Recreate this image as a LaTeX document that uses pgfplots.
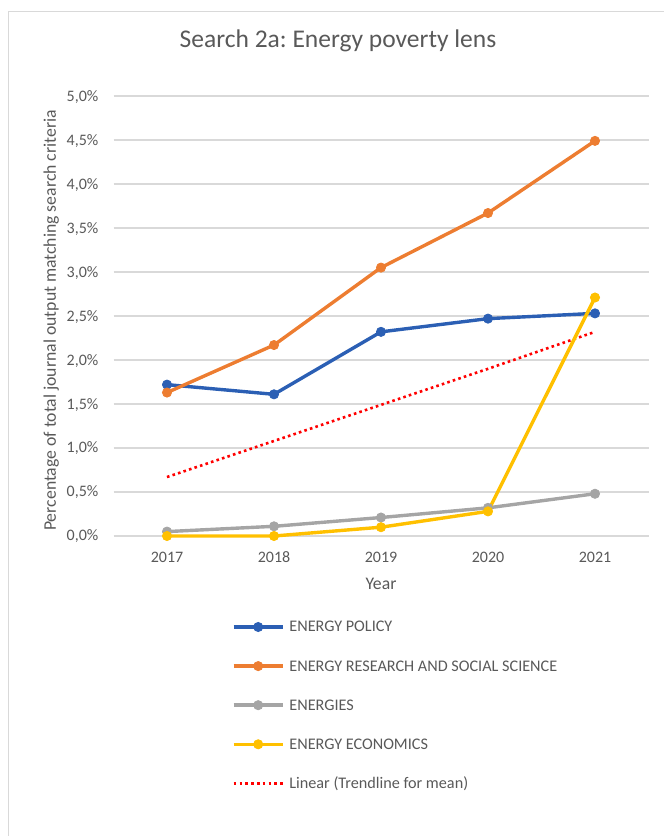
\documentclass[border=0pt]{standalone}
\usepackage{fontspec}
\setmainfont{Carlito}
\usepackage{pgfplots}
\usepackage{pgfplotstable}
\pgfplotsset{compat=1.18}
\frenchspacing

\definecolor{txt}{HTML}{595959}
\definecolor{gridc}{HTML}{D9D9D9}
\definecolor{cpolicy}{HTML}{2B5FB4}
\definecolor{cerss}{HTML}{ED7D31}
\definecolor{cenerg}{HTML}{A5A5A5}
\definecolor{cecon}{HTML}{FFC000}

% share of journal output (%)
\pgfplotstableread{
year policy erss energies econ trend
2017 1.72 1.63 0.05 0.00 0.67
2018 1.61 2.17 0.11 0.00 1.08
2019 2.32 3.05 0.21 0.10 1.49
2020 2.47 3.67 0.32 0.28 1.90
2021 2.53 4.49 0.48 2.71 2.32
}\data

\begin{document}
\begin{tikzpicture}
\path[use as bounding box] (0,0) rectangle (664bp,836bp);
\draw[gridc, line width=1bp] (8bp,0) -- (8bp,824bp) -- (664bp,824bp);
\begin{axis}[
    at={(113.5bp,300bp)}, anchor=south west,
    scale only axis, width=535bp, height=440bp,
    xmin=2016.5, xmax=2021.5, ymin=0, ymax=5,
    clip=false,
    axis line style={draw=none},
    tick style={draw=none},
    ymajorgrids,
    major grid style={gridc, line width=1.3bp},
    xtick={2017,2018,2019,2020,2021},
    xticklabels={2017,2018,2019,2020,2021},
    ytick={0,0.5,...,5},
    yticklabels={{0,0\%},{0,5\%},{1,0\%},{1,5\%},{2,0\%},{2,5\%},{3,0\%},{3,5\%},{4,0\%},{4,5\%},{5,0\%}},
    ticklabel style={font=\fontsize{16bp}{19bp}\selectfont, text=txt, inner sep=0pt},
    xticklabel style={anchor=base, yshift=-26.5bp},
    yticklabel style={anchor=base east, xshift=-15bp, yshift=-5bp},
    title={Search 2a: Energy poverty lens},
    title style={at={(axis description cs:0.4196,1.0977)}, anchor=base, inner sep=0pt,
        font=\fontsize{25.5bp}{30bp}\selectfont, text=txt},
    xlabel={Year},
    xlabel style={at={(axis description cs:0.5,-0.1227)}, anchor=base, inner sep=0pt,
        font=\fontsize{17.7bp}{21bp}\selectfont, text=txt},
    ylabel={Percentage of total journal output matching search criteria},
    ylabel style={at={(axis description cs:-0.1075,0.4898)}, anchor=base, rotate=0, inner sep=0pt,
        font=\fontsize{17.7bp}{21bp}\selectfont, text=txt},
    every axis plot/.append style={line width=3.4bp, mark=*, mark size=4.6bp},
    legend image code/.code={
        \draw[#1] (0bp,5bp) -- (49bp,5bp);
        \path[#1] plot coordinates {(24.5bp,5bp)};
    },
    legend style={at={(axis description cs:0.2215,-0.1909)}, anchor=north west,
        draw=none, fill=none, inner sep=0pt, outer sep=0pt,
        row sep=23.1bp, column sep=5bp,
        nodes={inner sep=0pt, anchor=base west, text height=12bp, text depth=4bp,
            font=\fontsize{16.2bp}{19bp}\selectfont, text=txt}},
    legend cell align=left,
]
\addplot[red, line width=2.6bp, mark=none, dash pattern=on 2.6bp off 3.2bp, forget plot]
    table[x=year, y=trend] {\data};
\addplot[cpolicy, mark options={fill=cpolicy, line width=0.8bp}] table[x=year, y=policy] {\data};
\addlegendentry{ENERGY POLICY}
\addplot[cerss, mark options={fill=cerss, line width=0.8bp}] table[x=year, y=erss] {\data};
\addlegendentry{ENERGY RESEARCH AND SOCIAL SCIENCE}
\addplot[cenerg, mark options={fill=cenerg, line width=0.8bp}] table[x=year, y=energies] {\data};
\addlegendentry{ENERGIES}
\addplot[cecon, mark options={fill=cecon, line width=0.8bp}] table[x=year, y=econ] {\data};
\addlegendentry{ENERGY ECONOMICS}
\addlegendimage{red, line width=2.6bp, mark=none, dash pattern=on 2.6bp off 3.2bp}
\addlegendentry{Linear (Trendline for mean)}
\end{axis}
\end{tikzpicture}
\end{document}
